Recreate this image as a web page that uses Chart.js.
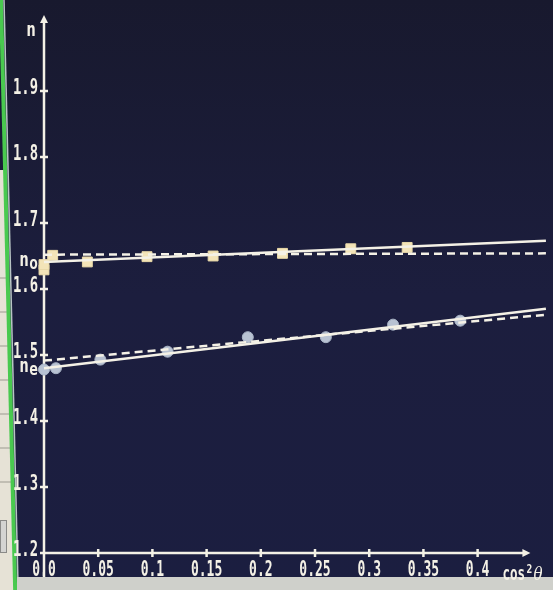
<!DOCTYPE html>
<html>
<head>
<meta charset="utf-8">
<script src="https://cdn.jsdelivr.net/npm/chart.js@4.4.1/dist/chart.umd.min.js"></script>
<style>
  html, body { margin: 0; padding: 0; background: #1b1d3b; overflow: hidden; }
  canvas { display: block; }
</style>
</head>
<body>
<canvas id="chart" width="553" height="590"></canvas>
<script>
// n against cos^2(theta)
const xTicks = [0, 0.05, 0.1, 0.15, 0.2, 0.25, 0.3, 0.35, 0.4];
const xTickLabels = ['0.0', '0.05', '0.1', '0.15', '0.2', '0.25', '0.3', '0.35', '0.4'];
const yTicks = [1.2, 1.3, 1.4, 1.5, 1.6, 1.7, 1.8, 1.9];
const yTickLabels = ['1.2', '1.3', '1.4', '1.5', '1.6', '1.7', '1.8', '1.9'];

// measured points: squares (ordinary) and circles (extraordinary)
const noX = [0, 0, 0.008, 0.040, 0.095, 0.156, 0.220, 0.283, 0.335];
const noY = [1.629, 1.637, 1.651, 1.641, 1.649, 1.650, 1.654, 1.661, 1.663];
const neX = [0, 0.011, 0.052, 0.114, 0.188, 0.260, 0.322, 0.384];
const neY = [1.478, 1.480, 1.493, 1.505, 1.527, 1.527, 1.546, 1.552];

// straight lines: solid = fit, dashed = reference
const lineX = [0, 0.463];
const noFit = [1.641, 1.673];
const noRef = [1.652, 1.654];
const neFit = [1.480, 1.570];
const neRef = [1.4915, 1.561];

const ink = '#f4f1e6';
const pts = (xs, ys) => xs.map((x, i) => ({ x: x, y: ys[i] }));

function label(ctx, text, x, y, align, base, font, sx) {
    ctx.save();
    ctx.translate(x, y);
    ctx.scale(sx, 1);
    ctx.font = font;
    ctx.textAlign = align;
    ctx.textBaseline = base;
    ctx.fillStyle = ink;
    ctx.fillText(text, 0, 0);
    ctx.restore();
}

// screen surroundings (navy window, green edge, grey strip)
const backdrop = {
    id: 'backdrop',
    beforeDraw(chart) {
        const ctx = chart.ctx;
        const w = chart.width, h = chart.height;
        ctx.save();
        const g = ctx.createLinearGradient(0, 0, 0, h);
        g.addColorStop(0, '#18192e');
        g.addColorStop(0.5, '#1c1e3e');
        g.addColorStop(1, '#1b1e40');
        ctx.fillStyle = g;
        ctx.fillRect(0, 0, w, h);

        // left panel with rows
        ctx.fillStyle = '#e6e2d6';
        ctx.beginPath();
        ctx.moveTo(0, 170);
        ctx.lineTo(0.024 * 170, 170);
        ctx.lineTo(0.024 * h, h);
        ctx.lineTo(0, h);
        ctx.fill();
        ctx.strokeStyle = '#9c9a90';
        ctx.lineWidth = 1;
        for (let y = 278; y < 500; y += 34) {
            ctx.beginPath();
            ctx.moveTo(0, y);
            ctx.lineTo(0.024 * y, y);
            ctx.stroke();
        }
        ctx.fillStyle = '#d4d4d2';
        ctx.fillRect(0, 520, 7, 33);
        ctx.strokeStyle = '#8a8a88';
        ctx.strokeRect(0.5, 520.5, 6, 32);

        // green edge
        ctx.fillStyle = '#49c94f';
        ctx.beginPath();
        ctx.moveTo(-1, 0);
        ctx.lineTo(3, 0);
        ctx.lineTo(3 + 0.024 * h, h);
        ctx.lineTo(-1 + 0.024 * h, h);
        ctx.fill();
        ctx.strokeStyle = '#b8c4c4';
        ctx.lineWidth = 1.5;
        ctx.beginPath();
        ctx.moveTo(4, 0);
        ctx.lineTo(4 + 0.024 * h, h);
        ctx.stroke();

        // grey window strip at the bottom
        ctx.fillStyle = '#cfd0cb';
        ctx.fillRect(17, 577, w - 17, h - 577);
        ctx.restore();
    }
};

// axes with arrows and crossing tick marks
const axes = {
    id: 'axes',
    beforeDatasetsDraw(chart) {
        const ctx = chart.ctx;
        const sx = chart.scales.x, sy = chart.scales.y;
        const ox = sx.getPixelForValue(0);
        const oy = sy.getPixelForValue(1.2);
        const top = chart.chartArea.top - 10;
        const right = chart.chartArea.right + 4;
        ctx.save();
        ctx.strokeStyle = ink;
        ctx.fillStyle = ink;
        ctx.lineWidth = 2.5;
        ctx.beginPath();
        ctx.moveTo(ox, 577);
        ctx.lineTo(ox, top + 6);
        ctx.moveTo(ox, oy);
        ctx.lineTo(right - 6, oy);
        sy.ticks.forEach(t => {
            const y = sy.getPixelForValue(t.value);
            ctx.moveTo(ox - 4, y);
            ctx.lineTo(ox + 4, y);
        });
        sx.ticks.forEach(t => {
            const x = sx.getPixelForValue(t.value);
            ctx.moveTo(x, oy - 4);
            ctx.lineTo(x, oy + 4);
        });
        ctx.stroke();
        ctx.beginPath();
        ctx.moveTo(ox, top);
        ctx.lineTo(ox - 4, top + 8);
        ctx.lineTo(ox + 4, top + 8);
        ctx.closePath();
        ctx.moveTo(right, oy);
        ctx.lineTo(right - 8, oy - 4);
        ctx.lineTo(right - 8, oy + 4);
        ctx.closePath();
        ctx.fill();
        ctx.restore();
    }
};

// tick labels and axis names
const texts = {
    id: 'texts',
    afterDraw(chart) {
        const ctx = chart.ctx;
        const sx = chart.scales.x, sy = chart.scales.y;
        const ox = sx.getPixelForValue(0);
        const oy = sy.getPixelForValue(1.2);
        const mono = 'bold 21px "DejaVu Sans Mono"';
        sy.ticks.forEach((t, i) => {
            label(ctx, yTickLabels[i], ox - 6, sy.getPixelForValue(t.value) - 2, 'right', 'middle', mono, 0.66);
        });
        sx.ticks.forEach((t, i) => {
            label(ctx, xTickLabels[i], sx.getPixelForValue(t.value), oy + 7, 'center', 'top', mono, 0.62);
        });
        const sans = 'bold 20px "DejaVu Sans Mono"';
        label(ctx, 'n', ox - 8, chart.chartArea.top + 6, 'right', 'middle', sans, 0.8);

        // intercept names n_o and n_e
        [['o', noFit[0]], ['e', neFit[0]]].forEach(([sub, v]) => {
            const y = sy.getPixelForValue(v);
            label(ctx, 'n', ox - 15, y - 1, 'right', 'middle', sans, 0.8);
            label(ctx, sub, ox - 6, y + 2, 'right', 'middle', 'bold 18px "DejaVu Sans Mono"', 0.8);
        });

        // cos^2 theta
        const bx = chart.chartArea.right - 24, by = oy + 27;
        label(ctx, 'cos', bx, by, 'left', 'alphabetic', 'bold 19px "DejaVu Sans Mono"', 0.66);
        label(ctx, '2', bx + 24, by - 7, 'left', 'alphabetic', 'bold 12px "DejaVu Sans Mono"', 0.8);
        label(ctx, 'θ', bx + 31, by, 'left', 'alphabetic', 'italic 19px "DejaVu Serif"', 0.8);
    }
};

const lineSet = (ys, dash) => ({
    data: pts(lineX, ys),
    showLine: true,
    borderColor: ink,
    borderWidth: 2.5,
    borderDash: dash,
    pointRadius: 0,
    clip: false
});

new Chart(document.getElementById('chart').getContext('2d'), {
    type: 'scatter',
    data: {
        datasets: [
            lineSet(noFit, []),
            lineSet(noRef, [8, 5]),
            lineSet(neFit, []),
            lineSet(neRef, [8, 5]),
            {
                data: pts(noX, noY),
                pointStyle: 'rect',
                pointRadius: 7,
                backgroundColor: '#f3e4b8',
                borderColor: '#e9d9a8',
                borderWidth: 1,
                clip: false
            },
            {
                data: pts(neX, neY),
                pointStyle: 'circle',
                pointRadius: 5.5,
                backgroundColor: '#b8c2d2',
                borderColor: '#a9b4c6',
                borderWidth: 1,
                clip: false
            }
        ]
    },
    options: {
        responsive: false,
        animation: false,
        devicePixelRatio: 1,
        layout: { padding: { top: 25, right: 26.6, left: 0, bottom: 0 } },
        plugins: { legend: { display: false }, tooltip: { enabled: false } },
        scales: {
            x: {
                type: 'linear',
                min: 0,
                max: 0.445,
                grid: { display: false },
                border: { display: false },
                ticks: { display: false },
                afterBuildTicks: s => { s.ticks = xTicks.map(v => ({ value: v })); },
                afterFit: s => { s.height = 37; }
            },
            y: {
                type: 'linear',
                min: 1.2,
                max: 2.0,
                grid: { display: false },
                border: { display: false },
                ticks: { display: false },
                afterBuildTicks: s => { s.ticks = yTicks.map(v => ({ value: v })); },
                afterFit: s => { s.width = 44; }
            }
        }
    },
    plugins: [backdrop, axes, texts]
});
</script>
</body>
</html>
